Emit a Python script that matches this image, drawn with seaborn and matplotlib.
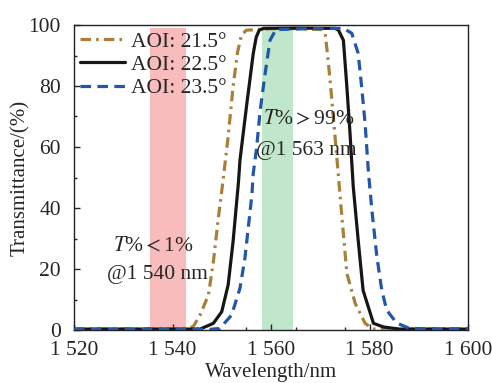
import pandas as pd
import matplotlib.pyplot as plt
import seaborn as sns
from matplotlib.ticker import MultipleLocator, FixedLocator, FuncFormatter

# Transmittance curves
wl_215 = [1520, 1530, 1540, 1542.5, 1544.2, 1545.6, 1547.3, 1548.3, 1549.3, 1550.3, 1551.3,
          1552.3, 1553.2, 1554.0, 1555, 1560, 1565, 1570.4, 1571.0, 1571.6, 1572.3, 1573.0,
          1573.7, 1574.4, 1575.4, 1577.1, 1579.1, 1580.1, 1581, 1590, 1600]
t_215 = [0.3, 0.3, 0.3, 0.3, 1.1, 4.9, 11.5, 22.4, 36.6, 49.5, 63.4,
         79.8, 91, 96.7, 98.3, 98.8, 98.8, 98.5, 97.3, 88.5, 76.5, 63.4,
         50.3, 37, 18.6, 8.7, 2.2, 1.0, 0.3, 0.3, 0.3]

wl_225 = [1520, 1540, 1545.6, 1548.3, 1550.0, 1551.3, 1552.3, 1553.4, 1553.7, 1555.1, 1556.4,
          1557.0, 1557.6, 1558.5, 1565, 1573.0, 1573.7, 1574.7, 1575.4, 1576.0, 1576.7,
          1577.7, 1578.7, 1580.8, 1582.8, 1586, 1600]
t_225 = [0.3, 0.3, 0.3, 2.2, 6, 14.8, 29, 48.6, 55.7, 74.3, 90.7,
         96, 98.3, 98.9, 99, 98.9, 98.3, 95, 79.8, 65.6, 47,
         29.5, 13, 2.2, 1.0, 0.3, 0.3]

wl_235 = [1520, 1540, 1547.5, 1549.6, 1552.0, 1553.7, 1554.7, 1556.1, 1556.4, 1557.1, 1557.8,
          1558.8, 1559.8, 1561, 1568, 1574.7, 1576.4, 1577.7, 1578.4, 1579.1, 1579.8, 1580.5,
          1581.5, 1582.5, 1583.5, 1585.5, 1588, 1592, 1600]
t_235 = [0.2, 0.2, 0.2, 0.5, 4.9, 13.7, 23.5, 44, 51.4, 60, 72,
         84, 95, 98.5, 98.8, 98.9, 97.3, 90.7, 79.8, 67.8, 51.4, 39,
         24, 13, 6.5, 2.3, 0.6, 0.3, 0.3]

labels = ["AOI: 21.5°", "AOI: 22.5°", "AOI: 23.5°"]
stop_band = (1535.5, 1542.7)   # T% < 1% @1540 nm
pass_band = (1558.2, 1564.5)   # T% > 99% @1563 nm
x_ticks = [1520, 1540, 1560, 1580, 1600]

frames = []
for lab, wl, t in zip(labels, [wl_215, wl_225, wl_235], [t_215, t_225, t_235]):
    frames.append(pd.DataFrame({"Wavelength": wl, "T": t, "AOI": lab}))
df = pd.concat(frames, ignore_index=True)

sns.set_style("ticks")
plt.rcParams['font.family'] = ['Liberation Serif', 'DejaVu Serif']
plt.rcParams['mathtext.fontset'] = 'stix'
plt.rcParams['xtick.direction'] = 'in'
plt.rcParams['ytick.direction'] = 'in'

FS = 15.5

fig = plt.figure(figsize=(4.92, 3.83), dpi=100)
ax = fig.add_axes([74 / 492, 1 - 330 / 383, 394 / 492, 305 / 383])

ax.axvspan(*stop_band, ymin=0, ymax=99 / 100, color="#f8bcbc", lw=0, zorder=0)
ax.axvspan(*pass_band, ymin=0, ymax=99 / 100, color="#c0e6cc", lw=0, zorder=0)

palette = {labels[0]: "#a8803a", labels[1]: "#161616", labels[2]: "#2156a8"}
dashes = {labels[0]: (3.3, 1.6, 0.8, 1.6), labels[1]: "", labels[2]: (3.3, 2.0)}

sns.lineplot(data=df, x="Wavelength", y="T", hue="AOI", style="AOI",
             palette=palette, dashes=dashes, linewidth=2.3, ax=ax, zorder=3)

ax.set_xlim(1520, 1600)
ax.set_ylim(0, 100)
ax.xaxis.set_major_locator(FixedLocator(x_ticks))
ax.xaxis.set_minor_locator(FixedLocator([1525, 1535, 1545, 1555, 1565, 1575, 1585, 1595]))
ax.xaxis.set_major_formatter(FuncFormatter(lambda v, p: f"{int(v):,}".replace(",", " ")))
ax.yaxis.set_major_locator(MultipleLocator(20))
ax.yaxis.set_minor_locator(MultipleLocator(10))
ax.tick_params(which="major", length=4, width=1, labelsize=FS)
ax.tick_params(axis="x", which="major", pad=8)
ax.tick_params(axis="y", which="major", pad=9.5)
ax.tick_params(which="minor", length=2.5, width=1)
for s in ax.spines.values():
    s.set_linewidth(1.0)
    s.set_color("#222222")

ax.set_xlabel("Wavelength/nm", fontsize=15)
ax.set_ylabel("Transmittance/(%)", fontsize=15)
ax.xaxis.set_label_coords(0.5, -0.107)
ax.yaxis.set_label_coords(-0.112, 0.5)

handles, labs = ax.get_legend_handles_labels()
ax.legend(handles, labs, loc="upper left", frameon=False, fontsize=FS,
          handlelength=2.05, handletextpad=0.3, labelspacing=0.15,
          borderaxespad=0.0, borderpad=0.3)

ax.text(1536.2, 27.3, r"$T$%$<$1%", fontsize=FS, ha="center", va="center")
ax.text(1536.9, 18.3, "@1 540 nm", fontsize=FS, ha="center", va="center")
ax.text(1567.7, 69.0, r"$T$%$>$99%", fontsize=FS, ha="center", va="center")
ax.text(1567.1, 58.8, "@1 563 nm", fontsize=FS, ha="center", va="center")

fig.savefig("out.png", dpi=100)
